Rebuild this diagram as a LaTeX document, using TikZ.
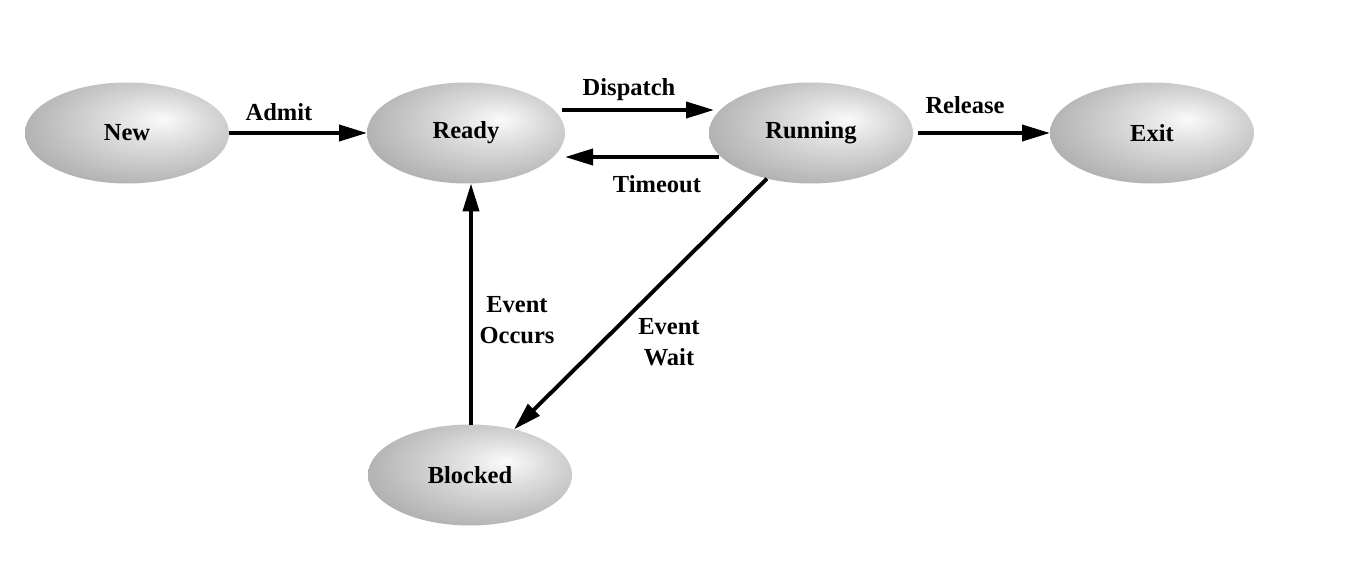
\documentclass[tikz,border=0pt]{standalone}
\usepackage{fontspec}
\setmainfont{Liberation Serif}
\usetikzlibrary{arrows.meta,shapes.geometric}
\pgfdeclareradialshading{stateshade}{\pgfpoint{9bp}{7bp}}{%
  rgb(0bp)=(0.98,0.98,0.98);
  rgb(12bp)=(0.86,0.86,0.86);
  rgb(32bp)=(0.68,0.68,0.68);
  rgb(48bp)=(0.57,0.57,0.57);
  rgb(60bp)=(0.54,0.54,0.54)}
\begin{document}
\begin{tikzpicture}[x=1pt,y=1pt,
  state/.style={ellipse,minimum width=204pt,minimum height=101pt,inner sep=0pt,outer sep=0pt,
    shading=stateshade,font=\fontsize{24.5}{28}\selectfont\bfseries},
  arr/.style={line width=3.9pt,-{Triangle[length=28pt,width=16pt]}},
  lbl/.style={font=\fontsize{24.5}{31}\selectfont\bfseries,align=center,inner sep=0pt}]
\useasboundingbox[fill=white] (0,0) rectangle (1360,-572);
\node[state] (New) at (127,-133) {New};
\node[state,minimum width=198pt] (Ready) at (466,-133) {Ready};
\node[state] (Running) at (811,-133) {Running};
\node[state] (Exit) at (1152,-133) {Exit};
\node[state] (Blocked) at (470,-475) {Blocked};
\draw[arr] (New.east) -- (Ready.west);
\draw[arr] ([yshift=23pt,xshift=-3pt]Ready.east) -- ([yshift=23pt,xshift=5pt]Running.west);
\draw[arr] ([yshift=-24pt,xshift=10pt]Running.west) -- ([yshift=-24pt]Ready.east);
\draw[arr] ([xshift=5pt]Running.east) -- (Exit.west);
\draw[arr] (Running.226) -- (Blocked.46);
\draw[arr] ([xshift=1pt]Blocked.north) -- ([xshift=1pt]Blocked.north |- Ready.south);
\node[lbl] (lAdmit) at (279,-112) {Admit};
\node[lbl] (lDispatch) at (629,-90) {Dispatch};
\node[lbl] (lTimeout) at (657,-184) {Timeout};
\node[lbl] (lRelease) at (965,-105) {Release};
\node[lbl] (lWait) at (669,-342) {Event\\Wait};
\node[lbl] (lOccurs) at (517,-320) {Event\\Occurs};
\end{tikzpicture}
\end{document}
